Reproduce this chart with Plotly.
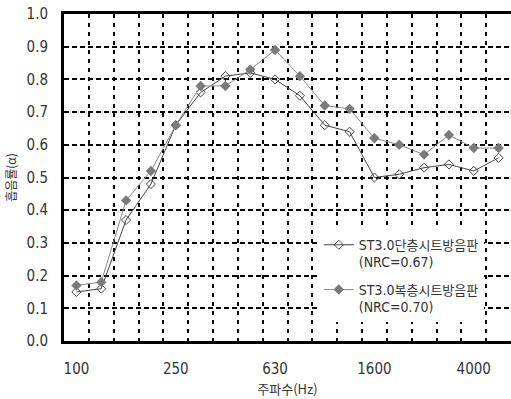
import plotly.graph_objects as go

freqs = ["100", "125", "160", "200", "250", "315", "400", "500", "630", "800",
         "1000", "1250", "1600", "2000", "2500", "3150", "4000", "5000"]
single_layer = [0.15, 0.16, 0.37, 0.48, 0.66, 0.76, 0.81, 0.82, 0.80, 0.75,
                0.66, 0.64, 0.50, 0.51, 0.53, 0.54, 0.52, 0.56]
double_layer = [0.17, 0.18, 0.43, 0.52, 0.66, 0.78, 0.78, 0.83, 0.89, 0.81,
                0.72, 0.71, 0.62, 0.60, 0.57, 0.63, 0.59, 0.59]
series_labels = ["단층시트방음판", "복층시트방음판"]
series_prefix = "ST3.0"
series_nrc = ["(NRC=0.67)", "(NRC=0.70)"]
label_freqs = ["100", "250", "630", "1600", "4000"]
y_ticks = [0.0, 0.1, 0.2, 0.3, 0.4, 0.5, 0.6, 0.7, 0.8, 0.9, 1.0]

narrow = "Liberation Sans Narrow, DejaVu Sans Condensed, sans-serif"
cjk = "Noto Sans CJK KR"


def legend_name(label, nrc):
    return (f'<span style="font-family:{narrow};font-size:14px">{series_prefix}</span>{label}'
            f'<br><span style="font-family:{narrow};font-size:14px">{nrc}</span>')


x = list(range(len(freqs)))
label_pos = [freqs.index(f) for f in label_freqs]
grid_pos = [i + 0.5 for i in range(len(freqs) - 1)]

tick_font = dict(family=narrow, size=15, color="#333")

fig = go.Figure()
fig.add_trace(go.Scatter(
    x=x, y=single_layer, name=legend_name(series_labels[0], series_nrc[0]),
    mode="lines+markers", legendgroup="a",
    line=dict(color="#444", width=1),
    marker=dict(symbol="diamond-open", size=7, color="#444", line=dict(width=1)),
))
fig.add_trace(go.Scatter(
    x=x, y=double_layer, name=legend_name(series_labels[1], series_nrc[1]),
    mode="lines+markers", legendgroup="b",
    line=dict(color="#8a8a8a", width=1),
    marker=dict(symbol="diamond", size=8, color="#7a7a7a"),
))

fig.update_layout(
    width=511, height=399,
    margin=dict(l=64, r=0, t=14, b=58),
    paper_bgcolor="white", plot_bgcolor="white",
    showlegend=True,
    legend=dict(x=0.57, y=0.34, xanchor="left", yanchor="top",
                bgcolor="white", borderwidth=0,
                font=dict(family=cjk, size=13, color="#333"),
                valign="top", traceorder="grouped", tracegroupgap=8, itemwidth=30),
)
fig.update_xaxes(
    range=[-0.5, len(freqs) - 0.5],
    tickmode="array", tickvals=label_pos, ticktext=label_freqs,
    ticks="", ticklabelstandoff=12, tickfont=tick_font,
    showgrid=False, zeroline=False,
    showline=True, linecolor="black", linewidth=3, mirror=True,
    minor=dict(tickmode="array", tickvals=grid_pos, showgrid=True,
               gridcolor="black", gridwidth=1.5, griddash="4px,5px", ticks=""),
    title=dict(text="주파수(Hz)", font=dict(family=cjk, size=13, color="#333"), standoff=8),
)
fig.update_yaxes(
    range=[0, 1.0],
    tickmode="array", tickvals=y_ticks, ticktext=[f"{v:.1f}" for v in y_ticks],
    ticks="", ticklabelstandoff=10, tickfont=tick_font,
    showgrid=True, gridcolor="black", gridwidth=1.5, griddash="5px,3px",
    zeroline=False,
    showline=True, linecolor="black", linewidth=3,
    title=dict(text="흡음률(α)", font=dict(family=cjk, size=12, color="#333"), standoff=8),
)

fig.write_html("out.html")
